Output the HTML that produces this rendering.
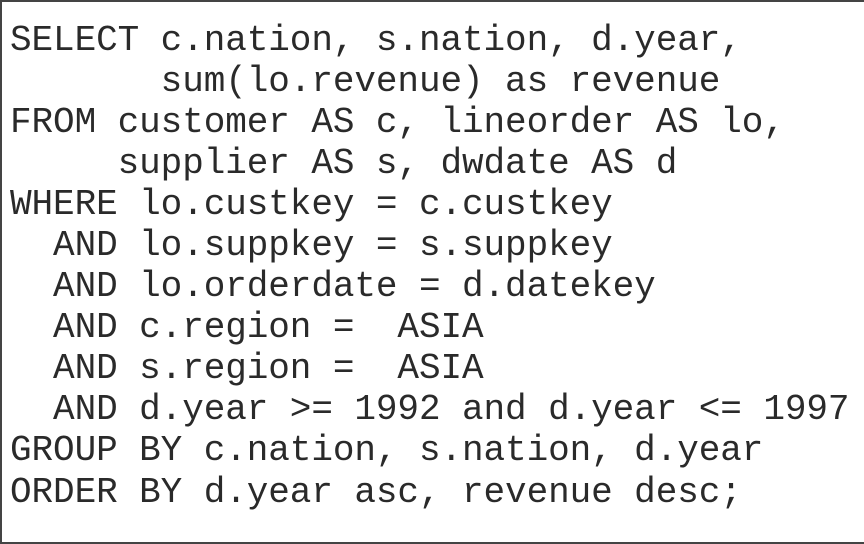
<!DOCTYPE html>
<html><head><meta charset="utf-8"><style>
html,body{margin:0;padding:0;background:#fff;}
#frame{position:absolute;left:0;top:0;width:864px;height:544px;box-sizing:border-box;border:2px solid #444;border-right:none;background:#fff;overflow:hidden;}
pre{position:absolute;left:8px;top:17.5px;margin:0;font-family:"Liberation Mono",monospace;font-size:36px;line-height:41.1px;color:#2a2a2a;letter-spacing:-0.08px;}
</style></head><body>
<div id="frame">
<pre>SELECT c.nation, s.nation, d.year,
       sum(lo.revenue) as revenue
FROM customer AS c, lineorder AS lo,
     supplier AS s, dwdate AS d
WHERE lo.custkey = c.custkey
  AND lo.suppkey = s.suppkey
  AND lo.orderdate = d.datekey
  AND c.region =  ASIA
  AND s.region =  ASIA
  AND d.year &gt;= 1992 and d.year &lt;= 1997
GROUP BY c.nation, s.nation, d.year
ORDER BY d.year asc, revenue desc;</pre>
</div>
</body></html>
